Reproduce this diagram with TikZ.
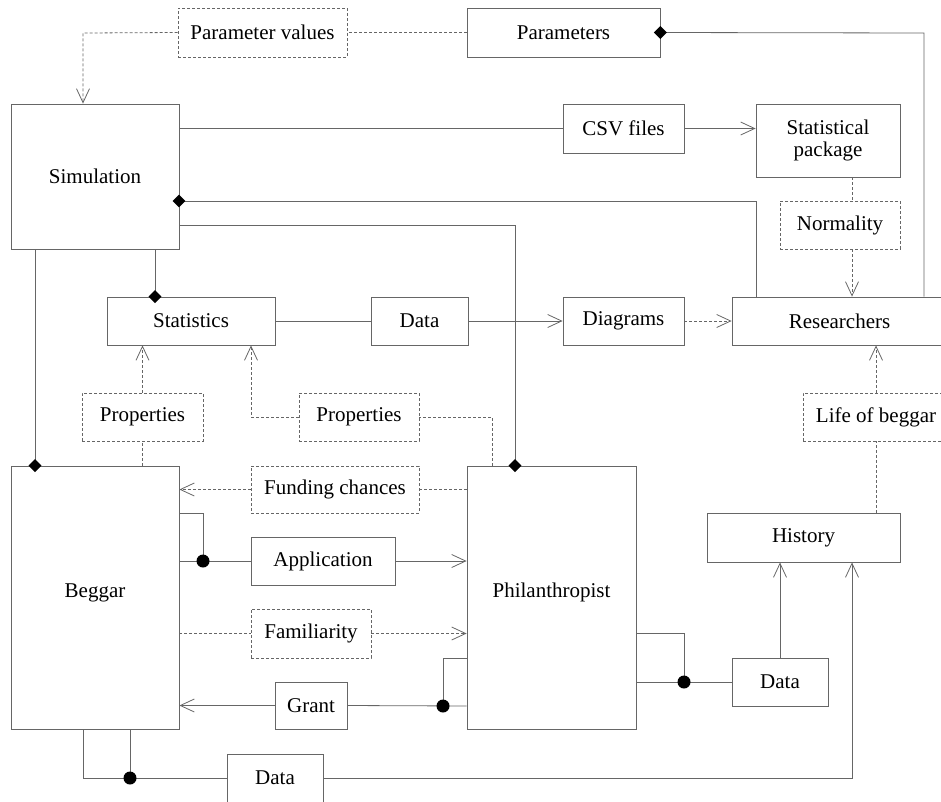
\documentclass[tikz,border=0pt]{standalone}
\usepackage{fontspec}
\setmainfont{Liberation Serif}
\usetikzlibrary{arrows.meta,shapes.geometric}
\definecolor{lc}{gray}{0.4}
\begin{document}
\begin{tikzpicture}[x=1pt,y=-1pt,
  box/.style={draw=lc, line width=0.8pt, rectangle, inner sep=0pt, font=\rmfamily\fontsize{21}{22}\selectfont, align=center},
  dbox/.style={box, dash pattern=on 3pt off 2pt},
  conn/.style={draw=lc, line width=0.8pt},
  dconn/.style={conn, dash pattern=on 3pt off 2pt},
  arr/.style={-{Straight Barb[length=14pt,width=13pt,line width=0.8pt]}},
  dmd/.style={diamond, fill=black, inner sep=0pt, minimum width=13pt, minimum height=13pt},
  dot/.style={circle, fill=black, inner sep=0pt, minimum size=13pt}]
\useasboundingbox (0,0) rectangle (941,801);
\clip (0,0) rectangle (941,801);
% boxes
\node[dbox, minimum width=169pt, minimum height=49pt] (pv) at (262.5,32.5) {Parameter values};
\node[box, minimum width=193pt, minimum height=49pt] (par) at (563.5,32.5) {Parameters};
\node[box, minimum width=168pt, minimum height=145pt] (sim) at (95,176.5) {Simulation};
\node[box, minimum width=121pt, minimum height=49pt] (csv) at (623.5,128.5) {CSV files};
\node[box, minimum width=144pt, minimum height=73pt] (stp) at (828,140.5) {Statistical\\package};
\node[dbox, minimum width=120pt, minimum height=48pt] (norm) at (840,225) {Normality};
\node[box, minimum width=168pt, minimum height=48pt] (stat) at (191,321) {Statistics};
\node[box, minimum width=97pt, minimum height=48pt] (dataA) at (419.5,321) {Data};
\node[box, minimum width=121pt, minimum height=48pt] (diag) at (623.5,321) {Diagrams};
\node[box, minimum width=215pt, minimum height=48pt] (res) at (839.5,321) {Researchers};
\node[dbox, minimum width=121pt, minimum height=48pt] (propA) at (142.5,417) {Properties};
\node[dbox, minimum width=120pt, minimum height=48pt] (propB) at (359,417) {Properties};
\node[dbox, minimum width=146pt, minimum height=48pt] (life) at (876,417) {Life of beggar};
\node[box, minimum width=168pt, minimum height=263pt] (beg) at (95,597.5) {\raisebox{14pt}{Beggar}};
\node[box, minimum width=169pt, minimum height=263pt] (phil) at (551.5,597.5) {\raisebox{14pt}{Philanthropist}};
\node[dbox, minimum width=168pt, minimum height=47pt] (fund) at (335,489.5) {Funding chances};
\node[box, minimum width=144pt, minimum height=48pt] (app) at (323,561) {Application};
\node[dbox, minimum width=120pt, minimum height=49pt] (fam) at (311,633.5) {Familiarity};
\node[box, minimum width=72pt, minimum height=47pt] (grant) at (311,705.5) {Grant};
\node[box, minimum width=96pt, minimum height=48pt] (dataC) at (275,778) {Data};
\node[box, minimum width=193pt, minimum height=49pt] (hist) at (803.5,537.5) {History};
\node[box, minimum width=96pt, minimum height=48pt] (dataB) at (780,682) {Data};
% junction coordinates
\coordinate (pvc) at (83,33);
\coordinate (parc) at (924,33);
\coordinate (simd) at (179,201);
\coordinate (simres) at (756,201);
\coordinate (simp) at (515,225);
\coordinate (propBc) at (492,417);
\coordinate (propBl) at (251,417);
\coordinate (jApp) at (203,561);
\coordinate (begTop) at (179,513);
\coordinate (begTopc) at (203,513);
\coordinate (jGrant) at (443,706);
\coordinate (philG) at (467,658);
\coordinate (philGc) at (443,658);
\coordinate (jBot) at (130,778);
\coordinate (begBl) at (83,729);
\coordinate (begBlc) at (83,778);
\coordinate (jPhil) at (684,682);
\coordinate (philR) at (636,633);
\coordinate (philRc) at (684,633);
\coordinate (histc) at (852,778);
% connectors
\draw[dconn] (par.west) -- (pv.east);
\draw[dconn, arr] (pv.west) -- (pvc) -- (pvc |- sim.north);
\draw[conn] (par.east) -- (parc) -- (parc |- res.north);
\draw[conn] (sim.east |- csv.west) -- (csv.west);
\draw[conn, arr] (csv.east) -- (stp.west |- csv.east);
\draw[conn] (simd) -- (simres) -- (simres |- res.north);
\draw[conn] (sim.east |- simp) -- (simp) -- (simp |- phil.north);
\draw[conn] (sim.south -| 35,0) -- (beg.north -| 35,0);
\draw[conn] (sim.south -| 155,0) -- (stat.north -| 155,0);
\draw[dconn] (stp.south -| 852,0) -- (norm.north -| 852,0);
\draw[dconn, arr] (norm.south -| 852,0) -- (res.north -| 852,0);
\draw[conn] (stat.east) -- (dataA.west);
\draw[conn, arr] (dataA.east) -- (diag.west);
\draw[dconn, arr] (diag.east) -- (res.west);
\draw[dconn] (beg.north -| propA.south) -- (propA.south);
\draw[dconn, arr] (propA.north) -- (propA.north |- stat.south);
\draw[dconn] (phil.north -| propBc) -- (propBc) -- (propB.east);
\draw[dconn, arr] (propB.west) -- (propBl) -- (propBl |- stat.south);
\draw[dconn] (phil.west |- fund.east) -- (fund.east);
\draw[dconn, arr] (fund.west) -- (beg.east |- fund.west);
\draw[conn] (begTop) -- (begTopc) -- (jApp);
\draw[conn] (beg.east |- app.west) -- (app.west);
\draw[conn, arr] (app.east) -- (phil.west |- app.east);
\draw[dconn] (beg.east |- fam.west) -- (fam.west);
\draw[dconn, arr] (fam.east) -- (phil.west |- fam.east);
\draw[conn] (philG) -- (philGc) -- (jGrant);
\draw[conn] (phil.west |- jGrant) -- (grant.east);
\draw[conn, arr] (grant.west) -- (beg.east |- grant.west);
\draw[conn] (begBl) -- (begBlc) -- (jBot);
\draw[conn] (beg.south -| jBot) -- (jBot) -- (dataC.west);
\draw[conn, arr] (dataC.east) -- (histc) -- (histc |- hist.south);
\draw[conn] (philR) -- (philRc) -- (jPhil);
\draw[conn] (phil.east |- jPhil) -- (dataB.west);
\draw[conn, arr] (dataB.north) -- (hist.south -| dataB.north);
\draw[dconn] (hist.north -| life.south) -- (life.south);
\draw[dconn, arr] (life.north) -- (life.north |- res.south);
% markers
\node[dmd] (dPar) at (par.east) {};
\node[dmd] (dSim) at (simd) {};
\node[dmd] (dPhil) at (phil.north -| simp) {};
\node[dmd] (dBeg) at (beg.north -| 35,0) {};
\node[dmd] (dStat) at (stat.north -| 155,0) {};
\node[dot] (dotApp) at (jApp) {};
\node[dot] (dotGrant) at (jGrant) {};
\node[dot] (dotBot) at (jBot) {};
\node[dot] (dotPhil) at (jPhil) {};
\end{tikzpicture}
\end{document}
